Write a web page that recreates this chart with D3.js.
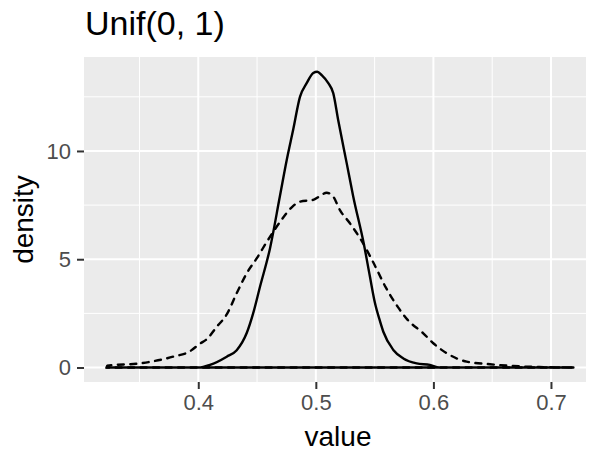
<!DOCTYPE html>
<html>
<head>
<meta charset="utf-8">
<script src="https://cdn.jsdelivr.net/npm/d3@7"></script>
<style>
  body { margin: 0; background: #fff; }
  text { font-family: "Liberation Sans", Arial, sans-serif; }
</style>
</head>
<body>
<svg id="chart" width="590" height="451"></svg>
<script>
// Density curves (value, density)
const solidX = [0.3221, 0.40, 0.41, 0.4242, 0.4327, 0.4412, 0.4468, 0.4525, 0.461, 0.4695, 0.4752, 0.4808, 0.4865, 0.4922, 0.4978, 0.5012, 0.505, 0.5106, 0.5148, 0.519, 0.5262, 0.5318, 0.541, 0.546, 0.5502, 0.5545, 0.5574, 0.5659, 0.5744, 0.5858, 0.597, 0.605, 0.7191];
const solidY = [0, 0, 0.12, 0.5, 0.8, 1.59, 2.52, 3.73, 5.5, 7.93, 9.57, 11.0, 12.5, 13.13, 13.6, 13.66, 13.5, 13.13, 12.67, 11.43, 9.45, 7.9, 5.66, 4.2, 3.0, 2.15, 1.65, 0.81, 0.42, 0.19, 0.12, 0, 0];

const dashedX = [0.3221, 0.3225, 0.3504, 0.3787, 0.3929, 0.4014, 0.4071, 0.4157, 0.4242, 0.4327, 0.4412, 0.4497, 0.4593, 0.4695, 0.4797, 0.4865, 0.4978, 0.503, 0.5092, 0.5148, 0.5205, 0.529, 0.5385, 0.5487, 0.5595, 0.5697, 0.5781, 0.5914, 0.5999, 0.6113, 0.6283, 0.6481, 0.6679, 0.69, 0.7191];
const dashedY = [0, 0.08, 0.19, 0.5, 0.75, 1.1, 1.3, 1.88, 2.45, 3.43, 4.35, 5.04, 5.89, 6.72, 7.41, 7.66, 7.74, 7.9, 8.07, 7.89, 7.27, 6.66, 5.89, 4.87, 3.7, 2.8, 2.2, 1.58, 1.12, 0.66, 0.27, 0.15, 0.07, 0.02, 0];

const xMajor = [0.4, 0.5, 0.6, 0.7];
const xMinor = [0.35, 0.45, 0.55, 0.65];
const yMajor = [0, 5, 10];
const yMinor = [2.5, 7.5, 12.5];

const svg = d3.select('#chart');

// Panel box
const panel = { left: 84, right: 586, top: 57, bottom: 382 };

const x = d3.scaleLinear().domain([0.3028, 0.7298]).range([panel.left, panel.right]);
const y = d3.scaleLinear().domain([-0.67, 14.34]).range([panel.bottom, panel.top]);

svg.append('rect')
    .attr('x', panel.left)
    .attr('y', panel.top)
    .attr('width', panel.right - panel.left)
    .attr('height', panel.bottom - panel.top)
    .attr('fill', '#EBEBEB');

// Grid lines
const grid = svg.append('g');
xMinor.forEach(v => grid.append('line')
    .attr('x1', x(v)).attr('x2', x(v))
    .attr('y1', panel.top).attr('y2', panel.bottom)
    .attr('stroke', '#fff').attr('stroke-width', 1));
yMinor.forEach(v => grid.append('line')
    .attr('x1', panel.left).attr('x2', panel.right)
    .attr('y1', y(v)).attr('y2', y(v))
    .attr('stroke', '#fff').attr('stroke-width', 1));
xMajor.forEach(v => grid.append('line')
    .attr('x1', x(v)).attr('x2', x(v))
    .attr('y1', panel.top).attr('y2', panel.bottom)
    .attr('stroke', '#fff').attr('stroke-width', 2));
yMajor.forEach(v => grid.append('line')
    .attr('x1', panel.left).attr('x2', panel.right)
    .attr('y1', y(v)).attr('y2', y(v))
    .attr('stroke', '#fff').attr('stroke-width', 2));

// Curves (outline includes the baseline, like geom_density)
const line = d3.line()
    .x(d => x(d[0]))
    .y(d => y(d[1]))
    .curve(d3.curveMonotoneX);

const dashedPts = dashedX.map((v, i) => [v, dashedY[i]]);
const solidPts = solidX.map((v, i) => [v, solidY[i]]);

svg.append('path')
    .attr('d', line(dashedPts) + 'Z')
    .attr('fill', 'none')
    .attr('stroke', '#000')
    .attr('stroke-width', 2.4)
    .attr('stroke-linecap', 'round')
    .attr('stroke-dasharray', '6,6.5');

svg.append('path')
    .attr('d', line(solidPts) + 'Z')
    .attr('fill', 'none')
    .attr('stroke', '#000')
    .attr('stroke-width', 2.4)
    .attr('stroke-linejoin', 'round');

// Axes
const xAxis = d3.axisBottom(x).tickValues(xMajor).tickSize(7).tickPadding(5)
    .tickFormat(d3.format('.1f'));
const gx = svg.append('g')
    .attr('transform', `translate(0,${panel.bottom})`)
    .call(xAxis);

const yAxis = d3.axisLeft(y).tickValues(yMajor).tickSize(7).tickPadding(6);
const gy = svg.append('g')
    .attr('transform', `translate(${panel.left},0)`)
    .call(yAxis);

[gx, gy].forEach(g => {
    g.select('.domain').remove();
    g.selectAll('.tick line').attr('stroke', '#333333').attr('stroke-width', 2);
    g.selectAll('.tick text')
        .attr('fill', '#4D4D4D')
        .attr('font-size', 22)
        .attr('font-family', '"Liberation Sans", Arial, sans-serif');
});

// Titles
svg.append('text')
    .attr('x', 85)
    .attr('y', 35)
    .attr('font-size', 34)
    .attr('fill', '#000')
    .text('Unif(0, 1)');

svg.append('text')
    .attr('x', (panel.left + panel.right) / 2 + 3)
    .attr('y', 446)
    .attr('text-anchor', 'middle')
    .attr('font-size', 28)
    .attr('fill', '#000')
    .text('value');

svg.append('text')
    .attr('transform', `translate(33,${(panel.top + panel.bottom) / 2}) rotate(-90)`)
    .attr('text-anchor', 'middle')
    .attr('font-size', 28)
    .attr('fill', '#000')
    .text('density');
</script>
</body>
</html>
